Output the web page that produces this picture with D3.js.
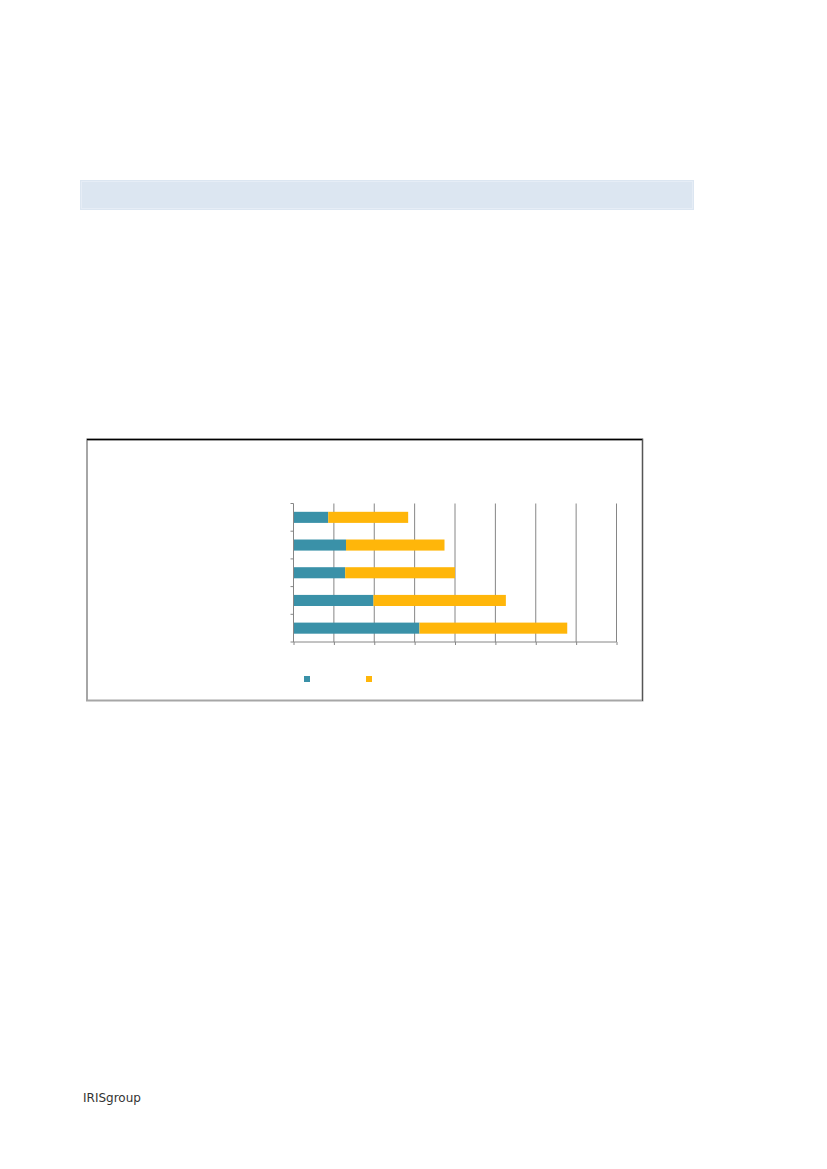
<!DOCTYPE html>
<html>
<head>
<meta charset="utf-8">
<script src="https://cdn.jsdelivr.net/npm/d3@7"></script>
<style>
  html, body { margin: 0; padding: 0; background: #fff; }
  svg { display: block; }
</style>
</head>
<body>
<script>
// chart data (x axis assumed 0..40)
const categories = ["1", "2", "3", "4", "5"];
const seriesA = [4.3, 6.5, 6.4, 9.9, 15.6];
const seriesB = [9.9, 12.2, 13.6, 16.4, 18.3];
const xTicks = [0, 5, 10, 15, 20, 25, 30, 35, 40];

const colors = ["#3a91a8", "#ffb60a"];

// page size
const w = 827;
const h = 1169;

// plot area
const plotLeft = 293.5;
const plotRight = 616.5;
const plotTop = 503.5;
const plotBottom = 642;

const svg = d3.select("body").append("svg").attr("width", w).attr("height", h);

// header band
svg.append("rect")
  .attr("x", 80).attr("y", 180)
  .attr("width", 614).attr("height", 30)
  .attr("fill", "#dce6f1");
svg.append("rect")
  .attr("x", 81.5).attr("y", 181.5)
  .attr("width", 611).attr("height", 27)
  .attr("fill", "none")
  .attr("stroke", "#e6edf6");

// chart frame
svg.append("rect")
  .attr("x", 87).attr("y", 439.5)
  .attr("width", 555.5).attr("height", 261)
  .attr("fill", "#fff")
  .attr("stroke", "#a6a6a6")
  .attr("stroke-width", 2);
svg.append("line")
  .attr("x1", 87).attr("x2", 643)
  .attr("y1", 439.5).attr("y2", 439.5)
  .attr("stroke", "#000").attr("stroke-width", 1.3);
svg.append("line")
  .attr("x1", 642.5).attr("x2", 642.5)
  .attr("y1", 439).attr("y2", 701)
  .attr("stroke", "#555").attr("stroke-width", 1);

const x = d3.scaleLinear().domain([0, 40]).range([plotLeft, plotRight]);
const y = d3.scaleBand()
  .domain(categories)
  .range([plotTop, plotBottom])
  .paddingInner(0.6)
  .paddingOuter(0.3);

// gridlines
svg.append("g")
  .selectAll("line")
  .data(xTicks.slice(1))
  .enter().append("line")
  .attr("x1", (d) => x(d)).attr("x2", (d) => x(d))
  .attr("y1", plotTop).attr("y2", plotBottom)
  .attr("stroke", "#868686").attr("stroke-width", 1);

// bars (stacked)
const rows = categories.map((c, i) => ({ id: c, a: seriesA[i], b: seriesB[i] }));
const g = svg.append("g");
g.selectAll("rect.a").data(rows).enter().append("rect")
  .attr("class", "a")
  .attr("x", x(0))
  .attr("y", (d) => y(d.id))
  .attr("width", (d) => x(d.a) - x(0))
  .attr("height", y.bandwidth())
  .attr("fill", colors[0]);
g.selectAll("rect.b").data(rows).enter().append("rect")
  .attr("class", "b")
  .attr("x", (d) => x(d.a))
  .attr("y", (d) => y(d.id))
  .attr("width", (d) => x(d.a + d.b) - x(d.a))
  .attr("height", y.bandwidth())
  .attr("fill", colors[1]);

// x axis with ticks pointing down
const xAxis = svg.append("g")
  .attr("transform", `translate(0,${plotBottom})`)
  .call(d3.axisBottom(x).tickValues(xTicks).tickSize(3).tickFormat(""));
xAxis.select(".domain").attr("stroke", "#868686").attr("d", `M${plotLeft},0H${plotRight}`);
xAxis.selectAll(".tick line").attr("stroke", "#868686");

// y axis, ticks between categories
const yEdges = d3.range(categories.length + 1).map((i) => plotTop + (plotBottom - plotTop) * i / categories.length);
svg.append("line")
  .attr("x1", plotLeft).attr("x2", plotLeft)
  .attr("y1", plotTop).attr("y2", plotBottom)
  .attr("stroke", "#868686");
svg.append("g")
  .selectAll("line")
  .data(yEdges)
  .enter().append("line")
  .attr("x1", plotLeft - 3).attr("x2", plotLeft)
  .attr("y1", (d) => d).attr("y2", (d) => d)
  .attr("stroke", "#868686");

// legend swatches
svg.append("g")
  .selectAll("rect")
  .data(colors)
  .enter().append("rect")
  .attr("x", (d, i) => 304 + i * 62)
  .attr("y", 676)
  .attr("width", 6).attr("height", 6)
  .attr("fill", (d) => d);

// footer logo
svg.append("text")
  .attr("x", 83).attr("y", 1102)
  .attr("font-family", "DejaVu Sans")
  .attr("font-size", 12)
  .attr("fill", "#333")
  .text("IRISgroup");
</script>
</body>
</html>
